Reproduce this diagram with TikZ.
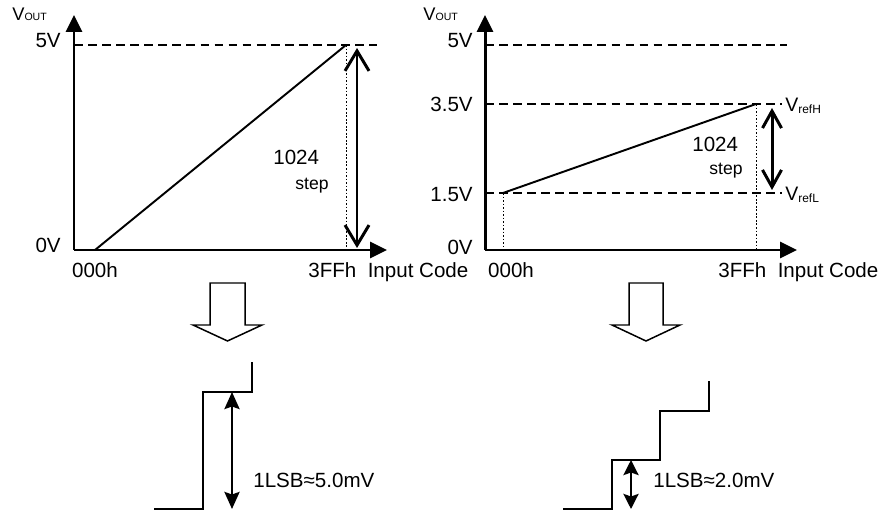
\documentclass[tikz,border=0pt]{standalone}
\usepackage{fontspec}
\setmainfont{Liberation Sans}
\usetikzlibrary{arrows.meta}

\newcommand{\lblsize}{\fontsize{11.7pt}{13pt}\selectfont}
\newcommand{\stepsize}{\fontsize{10pt}{11pt}\selectfont}
\newcommand{\voutlbl}{{\fontsize{10.4pt}{11pt}\selectfont V}{\fontsize{6pt}{7pt}\selectfont OUT}}
\newcommand{\vreflbl}[1]{{\fontsize{11.1pt}{12pt}\selectfont V}\raisebox{-0.6pt}{\fontsize{6.8pt}{7pt}\selectfont ref#1}}

\begin{document}
\begin{tikzpicture}[
	axis/.style={line width=1.7pt,-{Triangle[length=0.34cm,width=0.32cm]}},
	guide/.style={line width=1.1pt,dash pattern=on 5pt off 3pt},
	drop/.style={line width=0.5pt,dash pattern=on 1pt off 1pt},
	ramp/.style={line width=1.1pt},
	stair/.style={line width=1.4pt},
	hollow/.style={line width=0.85pt},
	lbl/.style={inner sep=0pt,font=\lblsize},
	steplbl/.style={inner sep=0pt,font=\stepsize},
]
	\useasboundingbox (0,0) rectangle (17.7,10.22);

		% left graph, full scale 0V .. 5V
		\coordinate (lorig) at (1.48,5.22);
		\coordinate (ltop) at (1.48,9.92);
		\coordinate (lright) at (7.74,5.22);
		\coordinate (lfive) at (1.48,9.32);
		\coordinate (lfiveend) at (7.54,9.32);
		\coordinate (lstart) at (1.9,5.22);
		\coordinate (lend) at (6.92,9.32);
		\coordinate (lfoot) at (6.92,5.22);
		\coordinate (lspantop) at (7.14,9.26);
		\coordinate (lspanbot) at (7.14,5.26);

		\draw[guide] (lfive) -- (lfiveend);
		\draw[drop] (lend) -- (lfoot);
		\draw[ramp] (lstart) -- (lend);
		\draw[axis] (lorig) -- (ltop);
		\draw[axis] (lorig) -- (lright);
		\draw[line width=1.7pt,{Straight Barb[length=0.4cm,width=0.48cm]}-{Straight Barb[length=0.4cm,width=0.48cm]}] (lspantop) -- (lspanbot);

		\node[lbl,anchor=base west] (lvout) at (0.24,9.8) {\voutlbl};
		\node[lbl,anchor=base east] (lfivev) at (1.22,9.26) {5V};
		\node[lbl,anchor=base east] (lzerov) at (1.22,5.16) {0V};
		\node[lbl,anchor=base] (lcodelo) at (1.9,4.66) {000h};
		\node[lbl,anchor=base west] (lcodehi) at (6.16,4.66) {3FFh\ \ Input Code};
		\node[lbl,anchor=base west] (lcount) at (5.46,6.92) {1024};
		\node[steplbl,anchor=base west] (lstep) at (5.9,6.42) {step};

		% right graph, VrefL .. VrefH
		\coordinate (rorig) at (9.7,5.22);
		\coordinate (rtop) at (9.7,9.92);
		\coordinate (rright) at (15.94,5.22);
		\coordinate (rfive) at (9.7,9.32);
		\coordinate (rfiveend) at (15.74,9.32);
		\coordinate (rhigh) at (9.7,8.14);
		\coordinate (rhighend) at (15.64,8.14);
		\coordinate (rlow) at (9.7,6.36);
		\coordinate (rlowend) at (15.64,6.36);
		\coordinate (rstart) at (10.06,6.36);
		\coordinate (rend) at (15.12,8.14);
		\coordinate (rstartfoot) at (10.06,5.22);
		\coordinate (rendfoot) at (15.12,5.22);
		\coordinate (rspantop) at (15.44,8.06);
		\coordinate (rspanbot) at (15.44,6.42);

		\draw[guide] (rfive) -- (rfiveend);
		\draw[guide] (rhigh) -- (rhighend);
		\draw[guide] (rlow) -- (rlowend);
		\draw[drop] (rstart) -- (rstartfoot);
		\draw[drop] (rend) -- (rendfoot);
		\draw[ramp] (rstart) -- (rend);
		\draw[axis] (rorig) -- (rtop);
		\draw[axis] (rorig) -- (rright);
		\draw[line width=1.7pt,{Straight Barb[length=0.34cm,width=0.38cm]}-{Straight Barb[length=0.34cm,width=0.38cm]}] (rspantop) -- (rspanbot);

		\node[lbl,anchor=base west] (rvout) at (8.46,9.8) {\voutlbl};
		\node[lbl,anchor=base east] (rfivev) at (9.46,9.26) {5V};
		\node[lbl,anchor=base east] (rhighv) at (9.46,7.98) {3.5V};
		\node[lbl,anchor=base east] (rlowv) at (9.46,6.18) {1.5V};
		\node[lbl,anchor=base east] (rzerov) at (9.46,5.12) {0V};
		\node[lbl,anchor=base west] (rrefh) at (15.7,7.98) {\vreflbl{H}};
		\node[lbl,anchor=base west] (rrefl) at (15.7,6.2) {\vreflbl{L}};
		\node[lbl,anchor=base] (rcodelo) at (10.22,4.66) {000h};
		\node[lbl,anchor=base west] (rcodehi) at (14.36,4.66) {3FFh\ \ Input Code};
		\node[lbl,anchor=base west] (rcount) at (13.84,7.18) {1024};
		\node[steplbl,anchor=base west] (rstep) at (14.18,6.72) {step};

		% hollow arrows
		\draw[hollow] (4.2,4.56) -- (4.2,3.72) -- (3.86,3.72) -- (4.55,3.4) -- (5.24,3.72) -- (4.9,3.72) -- (4.9,4.56) -- cycle;
		\draw[hollow] (12.58,4.56) -- (12.58,3.72) -- (12.24,3.72) -- (12.92,3.4) -- (13.6,3.72) -- (13.26,3.72) -- (13.26,4.56) -- cycle;

		% one step, left
		\coordinate (lsteptop) at (4.64,2.38);
		\coordinate (lstepbot) at (4.64,0.04);
		\draw[stair] (3.08,0.04) -- (4.06,0.04) -- (4.06,2.38) -- (5.04,2.38) -- (5.04,2.98);
		\draw[line width=1.5pt,{Stealth[length=0.34cm,width=0.3cm,inset=0.05cm]}-{Stealth[length=0.34cm,width=0.3cm,inset=0.05cm]}] (lsteptop) -- (lstepbot);
		\node[lbl,anchor=base west] (llsb) at (5.06,0.46) {1LSB≈5.0mV};

		% one step, right
		\coordinate (rsteptop) at (12.62,1.02);
		\coordinate (rstepbot) at (12.62,0.04);
		\draw[stair] (11.26,0.04) -- (12.24,0.04) -- (12.24,1.02) -- (13.2,1.02) -- (13.2,2.0) -- (14.18,2.0) -- (14.18,2.6);
		\draw[line width=1.5pt,{Stealth[length=0.3cm,width=0.3cm,inset=0.05cm]}-{Stealth[length=0.3cm,width=0.3cm,inset=0.05cm]}] (rsteptop) -- (rstepbot);
		\node[lbl,anchor=base west] (rlsb) at (13.06,0.46) {1LSB≈2.0mV};

\end{tikzpicture}
\end{document}
